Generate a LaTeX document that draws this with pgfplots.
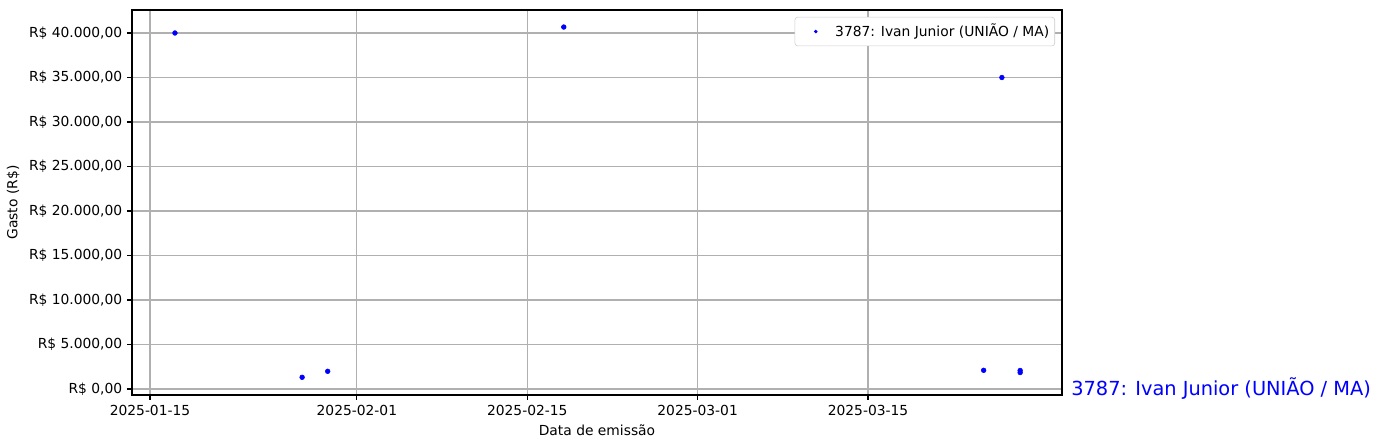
\documentclass[border=0pt]{standalone}
\usepackage{pgfplots}
\pgfplotsset{compat=1.18}
\usepackage{fontspec}
\setmainfont{DejaVu Sans}
\begin{document}
\begin{tikzpicture}
\path[use as bounding box] (-95.04bp,-38.16bp) rectangle (897.84bp,284.4bp);
\begin{axis}[
  at={(0,0)}, anchor=south west, scale only axis,
  width=669.6bp, height=277.2bp,
  xmin=-1.48, xmax=74.94, ymin=-674, ymax=42584,
  xtick={0,17,31,45,59},
  xticklabels={2025-01-15,2025-02-01,2025-02-15,2025-03-01,2025-03-15},
  ytick={0,5000,10000,15000,20000,25000,30000,35000,40000},
  yticklabels={{R\$ 0,00},{R\$ 5.000,00},{R\$ 10.000,00},{R\$ 15.000,00},{R\$ 20.000,00},{R\$ 25.000,00},{R\$ 30.000,00},{R\$ 35.000,00},{R\$ 40.000,00}},
  scaled y ticks=false,
  grid=major,
  grid style={color={rgb,255:red,176;green,176;blue,176}, line width=0.8bp},
  axis line style={line width=0.8bp},
  tick style={black, line width=0.8bp},
  tick align=outside, major tick length=3.5bp,
  xtick pos=left, ytick pos=left,
  ticklabel style={font=\fontsize{10}{12}\selectfont},
  label style={font=\fontsize{10}{12}\selectfont},
  xlabel={Data de emissão}, ylabel={Gasto (R\$)},
  legend style={at={(0.9925,0.982)}, anchor=north east,
    draw={rgb,255:red,204;green,204;blue,204}, rounded corners=2bp,
    font=\fontsize{10}{12}\selectfont, inner xsep=2bp, inner ysep=3bp},
  legend image code/.code={\path[draw=none,fill=none] (0bp,0bp) -- (25bp,0bp); \fill[blue,draw=none] (13bp,0bp) circle (1.4bp);},
  legend cell align=left,
  clip=false,
]
\addplot[only marks, mark=*, mark size=1.7bp, color=blue] table {
x y
2.05 40000
12.5 1315
14.6 1990
34.0 40670
68.5 2100
70.0 35000
71.5 2080
71.5 1850
};
\addlegendentry{3787: Ivan Junior (UNIÃO / MA)}
\node[anchor=west, text=blue, font=\fontsize{14}{17}\selectfont, inner sep=0pt, xshift=6.5bp] at (axis cs:74.94,0) {3787: Ivan Junior (UNIÃO / MA)};
\end{axis}
\end{tikzpicture}
\end{document}
